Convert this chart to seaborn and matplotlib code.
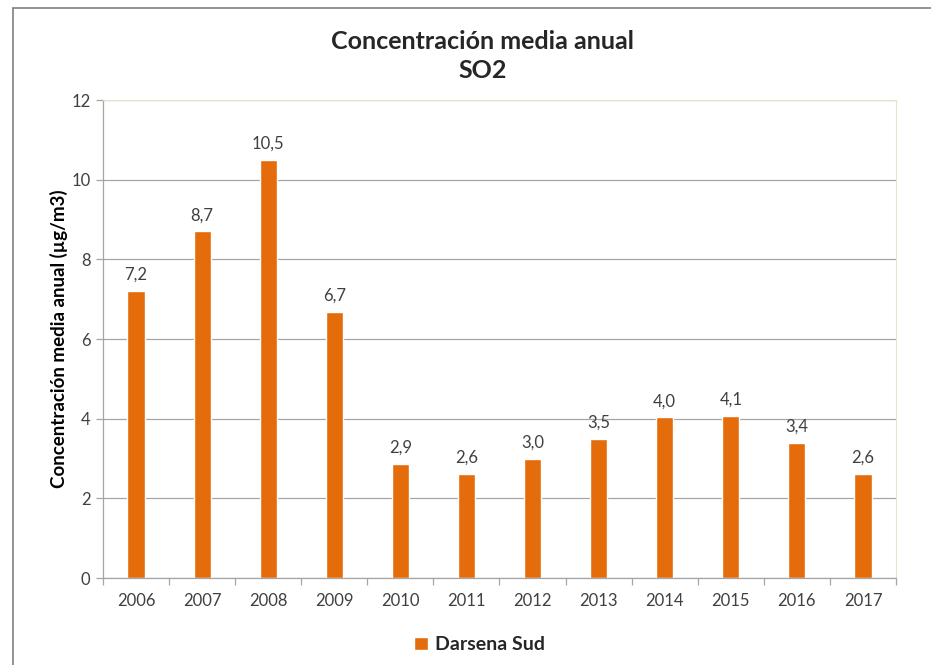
import matplotlib
matplotlib.use("Agg")
import matplotlib.pyplot as plt
import seaborn as sns
import pandas as pd
from matplotlib.lines import Line2D

years = ["2006", "2007", "2008", "2009", "2010", "2011", "2012", "2013", "2014", "2015", "2016", "2017"]
values = [7.2, 8.7, 10.5, 6.67, 2.87, 2.6, 3.0, 3.5, 4.03, 4.07, 3.4, 2.6]
labels = ["7,2", "8,7", "10,5", "6,7", "2,9", "2,6", "3,0", "3,5", "4,0", "4,1", "3,4", "2,6"]
series_name = "Darsena Sud"
title = "Concentración media anual\nSO2"
ylabel = "Concentración media anual (µg/m3)"
yticks = [0, 2, 4, 6, 8, 10, 12]

sns.set_theme(style="white")
plt.rcParams['font.family'] = ['Lato', 'DejaVu Sans']

df = pd.DataFrame({"year": years, "value": values})

fig = plt.figure(figsize=(9.31, 6.65), dpi=100)
ax = fig.add_axes([0.1106, 0.1308, 0.8518, 0.7188])
orange = "#E46C0A"
sns.barplot(data=df, x="year", y="value", color=orange, width=0.26,
            saturation=1, ax=ax, label=series_name)

ax.set_ylim(0, 12)
ax.set_xlim(-0.5, len(years) - 0.5)
ax.set_yticks(yticks)
ax.set_yticklabels([str(t) for t in yticks], fontsize=12, color="#404040")
ax.yaxis.grid(True, color="#A6A6A6", linewidth=0.9)
ax.set_axisbelow(True)

ax.set_xticks(range(len(years)))
ax.set_xticklabels(years, fontsize=12, color="#404040")
ax.set_xticks([i - 0.5 for i in range(len(years) + 1)], minor=True)
ax.tick_params(axis="x", which="major", length=0, pad=11)
ax.tick_params(axis="x", which="minor", length=5, color="#A6A6A6", width=0.9, direction="out", bottom=True)
ax.tick_params(axis="y", which="major", length=5, color="#A6A6A6", width=0.9, direction="out", left=True, pad=4)

for side in ["left", "bottom"]:
    ax.spines[side].set_color("#A6A6A6")
    ax.spines[side].set_linewidth(0.9)
for side in ["top", "right"]:
    ax.spines[side].set_color("#E8E4C8")
    ax.spines[side].set_linewidth(0.8)

ax.set_xlabel("")
ax.set_ylabel(ylabel, fontsize=13.5, fontweight="bold", color="black", labelpad=2)

ax.bar_label(ax.containers[0], labels=labels, padding=6, fontsize=12, color="#404040")

fig.suptitle(title, fontsize=18, fontweight="bold", x=0.518, y=0.955, linespacing=1.3)

ax.legend(loc="upper center", bbox_to_anchor=(0.475, -0.085), frameon=False,
          handlelength=0.7, handleheight=0.7, handletextpad=0.4,
          prop={"weight": "bold", "size": 14})

fig.add_artist(Line2D([0.014, 0.014], [0, 0.988], transform=fig.transFigure, color="#808080", linewidth=1.2))
fig.add_artist(Line2D([0.014, 1.0], [0.988, 0.988], transform=fig.transFigure, color="#808080", linewidth=1.2))

fig.savefig("out.png", dpi=100, facecolor="white")
